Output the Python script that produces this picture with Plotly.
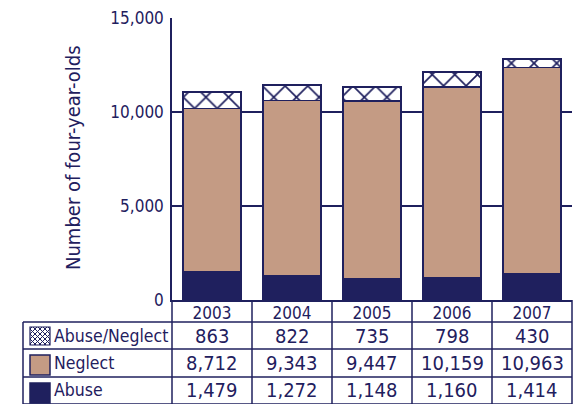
import plotly.graph_objects as go

years = ["2003", "2004", "2005", "2006", "2007"]
abuse = [1479, 1272, 1148, 1160, 1414]
neglect = [8712, 9343, 9447, 10159, 10963]
abuse_neglect = [863, 822, 735, 798, 430]
y_ticks = [0, 5000, 10000, 15000]
y_tick_labels = ["0", "5,000", "10,000", "15,000"]
series_names = ["Abuse/Neglect", "Neglect", "Abuse"]

NAVY = "#1f205e"
TAN = "#c49b84"
FONT = "DejaVu Sans Condensed, DejaVu Sans"

W, H = 577, 404
L, R, T, B = 172, 5, 18, 104
PW = W - L - R
PH = H - T - B


def px(x):
    return (x - L) / PW


def py(y):
    return (H - B - y) / PH


fig = go.Figure()
fig.add_bar(x=years, y=abuse, name="Abuse",
            marker=dict(color=NAVY, line=dict(color=NAVY, width=1.5)))
fig.add_bar(x=years, y=neglect, name="Neglect",
            marker=dict(color=TAN, line=dict(color=NAVY, width=1.5)))
fig.add_bar(x=years, y=abuse_neglect, name="Abuse/Neglect",
            marker=dict(color="white", line=dict(color=NAVY, width=1.5),
                        pattern=dict(shape="x", fgcolor=NAVY, bgcolor="white",
                                     fgopacity=1, size=16, solidity=0.2)))

shapes = []
line = dict(color=NAVY, width=1.5)
right_edge = 572
row_lines = [322, 349, 377, 404]
for yy in row_lines:
    shapes.append(dict(type="line", xref="paper", yref="paper",
                       x0=px(23), x1=px(right_edge), y0=py(yy), y1=py(yy), line=line))
col_x = [172 + 80 * k for k in range(5)] + [right_edge]
for xx in col_x:
    shapes.append(dict(type="line", xref="paper", yref="paper",
                       x0=px(xx), x1=px(xx), y0=py(300), y1=py(404), line=line))
shapes.append(dict(type="line", xref="paper", yref="paper",
                   x0=px(23), x1=px(23), y0=py(322), y1=py(404), line=line))

# legend swatches
sw_x0, sw_x1 = 30, 50
sw_rows = [(327, 345), (355, 375), (383, 403)]
y0, y1 = sw_rows[0]
shapes.append(dict(type="rect", xref="paper", yref="paper",
                   x0=px(sw_x0), x1=px(sw_x1), y0=py(y0), y1=py(y1),
                   fillcolor="white", line=dict(color=NAVY, width=1.2)))
w = sw_x1 - sw_x0
h = y1 - y0
step = 5
c = -h
while c <= w + h:
    xa, xb = max(0, -c), min(w, h - c)
    if xb > xa:
        shapes.append(dict(type="line", xref="paper", yref="paper",
                           x0=px(sw_x0 + xa), y0=py(y0 + xa + c),
                           x1=px(sw_x0 + xb), y1=py(y0 + xb + c),
                           line=dict(color=NAVY, width=1)))
    xa, xb = max(0, c - h), min(w, c)
    if xb > xa:
        shapes.append(dict(type="line", xref="paper", yref="paper",
                           x0=px(sw_x0 + xa), y0=py(y0 - xa + c),
                           x1=px(sw_x0 + xb), y1=py(y0 - xb + c),
                           line=dict(color=NAVY, width=1)))
    c += step
y0, y1 = sw_rows[1]
shapes.append(dict(type="rect", xref="paper", yref="paper",
                   x0=px(sw_x0), x1=px(sw_x1), y0=py(y0), y1=py(y1),
                   fillcolor=TAN, line=dict(color=NAVY, width=1.5)))
y0, y1 = sw_rows[2]
shapes.append(dict(type="rect", xref="paper", yref="paper",
                   x0=px(sw_x0), x1=px(sw_x1), y0=py(y0), y1=py(y1),
                   fillcolor=NAVY, line=dict(color=NAVY, width=1.5)))

annotations = []
row_centers = [336, 363, 390.5]
row_values = [abuse_neglect, neglect, abuse]
for name, yc, vals in zip(series_names, row_centers, row_values):
    annotations.append(dict(text=name, xref="paper", yref="paper",
                            x=px(52), y=py(yc), xanchor="left", yanchor="middle",
                            showarrow=False, font=dict(family=FONT, size=17.5, color=NAVY)))
    for k, v in enumerate(vals):
        annotations.append(dict(text=f"{v:,}", xref="paper", yref="paper",
                                x=(k + 0.5) / len(years), y=py(yc),
                                xanchor="center", yanchor="middle",
                                showarrow=False, font=dict(family=FONT, size=20, color=NAVY)))

annotations.append(dict(text="Number of four-year-olds", xref="paper", yref="paper",
                        x=px(73), y=py(158), xanchor="center", yanchor="middle",
                        textangle=-90, showarrow=False,
                        font=dict(family=FONT, size=20, color=NAVY)))

fig.update_layout(
    width=W, height=H,
    margin=dict(l=L, r=R, t=T, b=B, pad=0),
    barmode="stack", bargap=0.275,
    showlegend=False,
    plot_bgcolor="white", paper_bgcolor="white",
    font=dict(family=FONT, color=NAVY),
    shapes=shapes, annotations=annotations,
    xaxis=dict(showline=True, linecolor=NAVY, linewidth=1.5, ticks="",
               tickfont=dict(family=FONT, size=17, color=NAVY),
               showgrid=False, zeroline=False, range=[-0.5, 4.5],
               ticklabelstandoff=-3),
    yaxis=dict(range=[0, 15000], tickvals=y_ticks, ticktext=y_tick_labels,
               showline=True, linecolor=NAVY, linewidth=1.5, ticks="",
               tickfont=dict(family=FONT, size=17, color=NAVY),
               showgrid=True, gridcolor=NAVY, gridwidth=1.5, zeroline=False,
               ticklabelstandoff=3),
)

fig.write_html("out.html")
